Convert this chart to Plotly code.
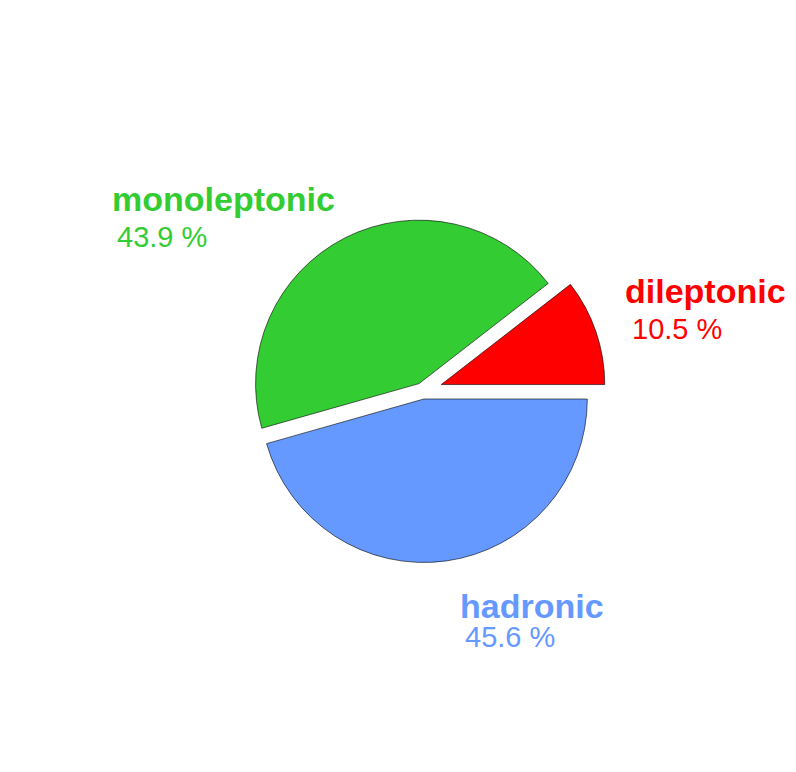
import plotly.graph_objects as go

labels = ["dileptonic", "monoleptonic", "hadronic"]
values = [10.5, 43.9, 45.6]
colors = ["#ff0000", "#33cc33", "#6699ff"]
pulls = [0.12, 0.05, 0.05]

fig = go.Figure(go.Pie(
    labels=labels, values=values, sort=False, direction="counterclockwise",
    rotation=90 - 360 * values[0] / sum(values), pull=pulls, textinfo="none",
    hoverinfo="label+percent",
    marker=dict(colors=colors, line=dict(color="black", width=0.6)),
    domain=dict(x=[0.521 - 0.23, 0.521 + 0.23], y=[0.504 - 0.238, 0.504 + 0.238]),
    showlegend=False,
))

# label positions (paper coords)
label_pos = [(0.772, 0.633, 0.781, 0.584), (0.128, 0.752, 0.135, 0.703), (0.565, 0.226, 0.572, 0.185)]
for lab, v, c, (lx, ly, px, py) in zip(labels, values, colors, label_pos):
    fig.add_annotation(x=lx, y=ly, xref="paper", yref="paper", xanchor="left", yanchor="middle",
                       text="<b>%s</b>" % lab, showarrow=False,
                       font=dict(family="Liberation Sans", size=34, color=c))
    fig.add_annotation(x=px, y=py, xref="paper", yref="paper", xanchor="left", yanchor="middle",
                       text="%.1f %%" % v, showarrow=False,
                       font=dict(family="Liberation Sans", size=29, color=c))

fig.update_layout(width=796, height=772, margin=dict(l=0, r=0, t=0, b=0),
                  paper_bgcolor="white", plot_bgcolor="white")
fig.write_html("out.html")
